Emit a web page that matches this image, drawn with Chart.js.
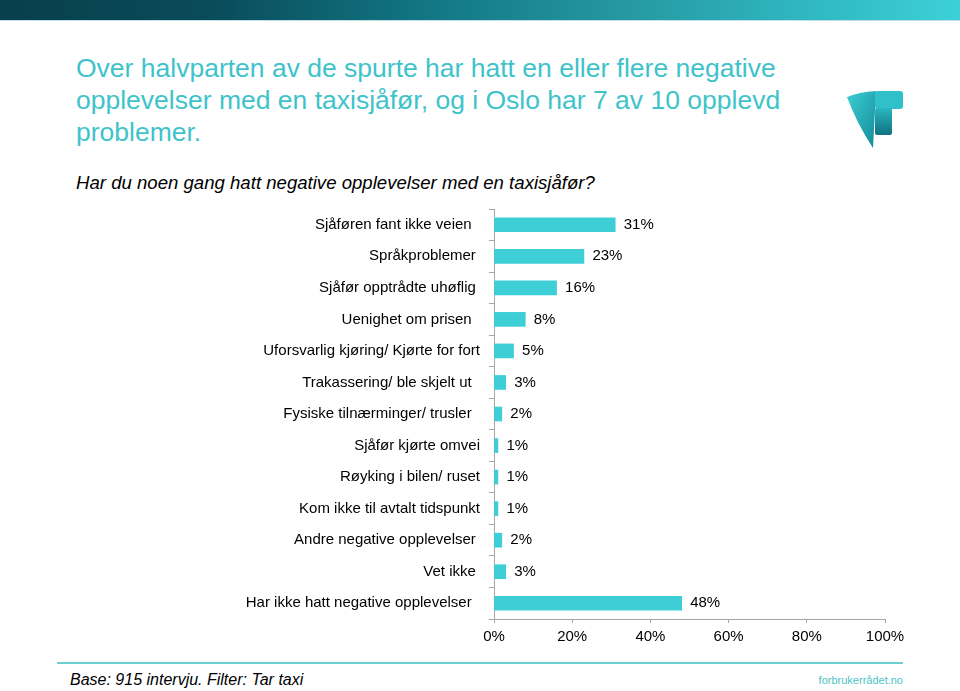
<!DOCTYPE html>
<html>
<head>
<meta charset="utf-8">
<script src="https://cdn.jsdelivr.net/npm/chart.js@4.4.1/dist/chart.umd.min.js"></script>
<style>
  body { margin: 0; background: #fff; font-family: "Liberation Sans", Arial, sans-serif; }
  #page { position: relative; width: 960px; height: 691px; overflow: hidden; }
  #topbar { position: absolute; left: 0; top: 0; width: 960px; height: 20px;
    background: linear-gradient(to right, #083f4d 0%, #0a4b5a 22%, #127784 45%, #2598a2 65%, #30b9c2 85%, #3dd0d8 100%);
    border-bottom: 1px solid #bfe3e6; }
  #title { position: absolute; left: 76px; top: 52px; width: 780px; font-size: 26.5px; line-height: 32px; color: #3ec3ca; }
  #subtitle { position: absolute; left: 76px; top: 172px; font-size: 18.6px; font-style: italic; color: #000; }
  #logo { position: absolute; left: 845px; top: 88px; }
  #chartbox { position: absolute; left: 0; top: 191px; }
  #footline { position: absolute; left: 57px; top: 662px; width: 846px; height: 2px; background: #6ccfcf; }
  #base { position: absolute; left: 70px; top: 671px; font-size: 16px; font-style: italic; color: #000; }
  #site { position: absolute; right: 57px; top: 674px; font-size: 11px; color: #4cc4c6; }
</style>
</head>
<body>
<div id="page">
  <div id="topbar"></div>
  <div id="title">Over halvparten av de spurte har hatt en eller flere negative opplevelser med en taxisjåfør, og i Oslo har 7 av 10 opplevd problemer.</div>
  <div id="subtitle">Har du noen gang hatt negative opplevelser med en taxisjåfør?</div>
  <svg id="logo" width="62" height="64" viewBox="0 0 62 64">
    <defs>
      <linearGradient id="lg1" x1="0" y1="0" x2="1" y2="1">
        <stop offset="0" stop-color="#3dcfd6"/><stop offset="1" stop-color="#138a96"/>
      </linearGradient>
      <linearGradient id="lg2" x1="0" y1="0" x2="0" y2="1">
        <stop offset="0" stop-color="#2bb7c0"/><stop offset="1" stop-color="#0f7380"/>
      </linearGradient>
    </defs>
    <path d="M2 9 Q14 4 31 3 L28 60 Q12 36 2 9 Z" fill="url(#lg1)"/>
    <rect x="30" y="3" width="28" height="18" rx="3" fill="#2fc0c9"/>
    <rect x="30" y="20" width="17" height="27" rx="2" fill="url(#lg2)"/>
  </svg>
  <div id="chartbox"><canvas id="chart" width="960" height="469"></canvas></div>
  <div id="footline"></div>
  <div id="base">Base: 915 intervju. Filter: Tar taxi</div>
  <div id="site">forbrukerrådet.no</div>
</div>
<script>
const categories = [
  'Sjåføren fant ikke veien  ',
  'Språkproblemer ',
  'Sjåfør opptrådte uhøflig ',
  'Uenighet om prisen  ',
  'Uforsvarlig kjøring/ Kjørte for fort',
  'Trakassering/ ble skjelt ut  ',
  'Fysiske tilnærminger/ trusler  ',
  'Sjåfør kjørte omvei',
  'Røyking i bilen/ ruset',
  'Kom ikke til avtalt tidspunkt',
  'Andre negative opplevelser ',
  'Vet ikke ',
  'Har ikke hatt negative opplevelser  '
];
const values = [31, 23, 16, 8, 5, 3, 2, 1, 1, 1, 2, 3, 48];
const xTicks = [0, 20, 40, 60, 80, 100];

const barColor = '#3dced6';
const axisColor = '#a6a6a6';
const fontFamily = '"Liberation Sans", Arial, sans-serif';

// draws the "31%" style labels to the right of each bar
const valueLabels = {
  id: 'valueLabels',
  afterDatasetsDraw(chart) {
    const ctx = chart.ctx;
    const meta = chart.getDatasetMeta(0);
    ctx.save();
    ctx.font = '15px ' + fontFamily;
    ctx.fillStyle = '#000';
    ctx.textAlign = 'left';
    ctx.textBaseline = 'middle';
    meta.data.forEach((bar, i) => {
      ctx.fillText(values[i] + '%', bar.x + 8.5, bar.y);
    });
    ctx.restore();
  }
};

new Chart(document.getElementById('chart'), {
  type: 'bar',
  plugins: [valueLabels],
  data: {
    labels: categories,
    datasets: [{
      data: values,
      backgroundColor: barColor,
      borderWidth: 0,
      barThickness: 14
    }]
  },
  options: {
    indexAxis: 'y',
    responsive: false,
    animation: false,
    layout: { padding: { left: 0, right: 75, top: 9, bottom: 11 } },
    plugins: { legend: { display: false }, tooltip: { enabled: false } },
    scales: {
      x: {
        min: 0,
        max: 100,
        afterFit: (scale) => { scale.height = 30; },
        afterBuildTicks: (scale) => { scale.ticks = xTicks.map(v => ({ value: v })); },
        grid: { drawOnChartArea: false, tickLength: 4, color: axisColor },
        border: { color: axisColor },
        ticks: {
          color: '#000',
          padding: 5,
          font: { size: 15, family: fontFamily },
          callback: (v) => v + '%'
        }
      },
      y: {
        afterFit: (scale) => { scale.width = 494; },
        grid: { drawOnChartArea: false, tickLength: 5, color: axisColor, offset: true },
        border: { color: axisColor },
        ticks: {
          color: '#000',
          padding: 9,
          autoSkip: false,
          font: { size: 15, family: fontFamily }
        }
      }
    }
  }
});
</script>
</body>
</html>
